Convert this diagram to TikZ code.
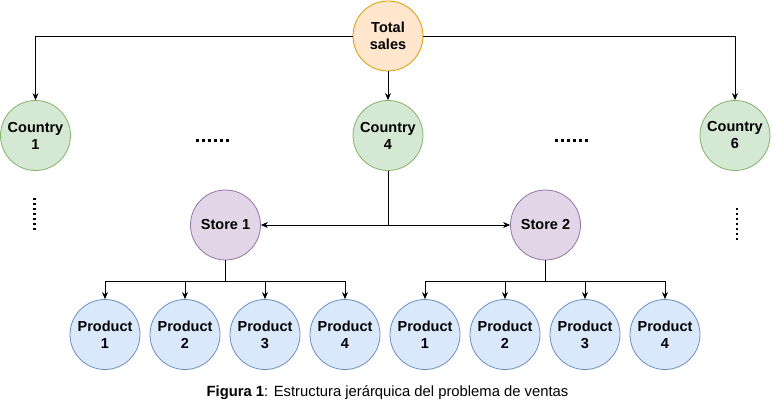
\documentclass[tikz,border=0pt]{standalone}
\usepackage{fontspec}
\setmainfont{Liberation Sans}
\usetikzlibrary{arrows.meta}
\definecolor{orfill}{HTML}{FFE6CC}\definecolor{ordraw}{HTML}{D79B00}
\definecolor{grfill}{HTML}{D5E8D4}\definecolor{grdraw}{HTML}{82B366}
\definecolor{pufill}{HTML}{E1D5E7}\definecolor{pudraw}{HTML}{9673A6}
\definecolor{blfill}{HTML}{DAE8FC}\definecolor{bldraw}{HTML}{6C8EBF}
\tikzset{
  circ/.style={circle,minimum size=70pt,inner sep=0pt,line width=0.8pt,align=center,font=\fontsize{14.5}{17}\selectfont\bfseries},
  total/.style={circ,fill=orfill,draw=ordraw},
  country/.style={circ,fill=grfill,draw=grdraw},
  store/.style={circ,fill=pufill,draw=pudraw},
  product/.style={circ,fill=blfill,draw=bldraw},
  arr/.style={-{Stealth[length=7pt,width=6pt]},line width=0.8pt},
  ln/.style={line width=0.8pt},
  vdots/.style={line width=2.4pt,dash pattern=on 2.4pt off 2.6pt},
  hdots/.style={line width=3pt,dash pattern=on 3pt off 2.9pt},
}
\begin{document}
\begin{tikzpicture}[x=1pt,y=-1pt]
\path[use as bounding box,fill=white] (0,0) rectangle (772,411);
\node[total] (ts) at (388,36) {Total\\sales};
\node[country] (c1) at (35.5,135.5) {Country\\1};
\node[country] (c4) at (388,135.5) {Country\\4};
\node[country] (c6) at (735,135.5) {Country\\6};
\draw[hdots] (196,141) -- (229,141);
\draw[hdots] (555,141) -- (588,141);
\draw[vdots] (34.5,198) -- (34.5,231);
\draw[vdots] (737,208) -- (737,241);
\node[store] (s1) at (225.5,225) {Store 1};
\node[store] (s2) at (545.5,225) {Store 2};
\foreach \i/\x/\l in {1/105/1,2/185/2,3/265/3,4/345/4,5/425/1,6/505/2,7/585/3,8/665/4}{
  \node[product] (p\i) at (\x,334.5) {Product\\\l};
}
\draw[arr] (ts.west) -| (c1.north);
\draw[arr] (ts.east) -| (c6.north);
\draw[arr] (ts.south) -- (c4.north);
\draw[arr] (c4.south) |- (s1.east);
\draw[arr] (c4.south) |- (s2.west);
\coordinate (j1) at (225.5,281);
\coordinate (j2) at (545.5,281);
\draw[ln] (s1.south) -- (j1);
\draw[ln] (s2.south) -- (j2);
\foreach \i in {1,2,3,4}{\draw[arr] (j1) -| (p\i.north);}
\foreach \i in {5,6,7,8}{\draw[arr] (j2) -| (p\i.north);}
\node[font=\fontsize{14.8}{17}\selectfont] (cap) at (387.5,393) {\textbf{Figura 1}: Estructura jerárquica del problema de ventas};
\end{tikzpicture}
\end{document}
